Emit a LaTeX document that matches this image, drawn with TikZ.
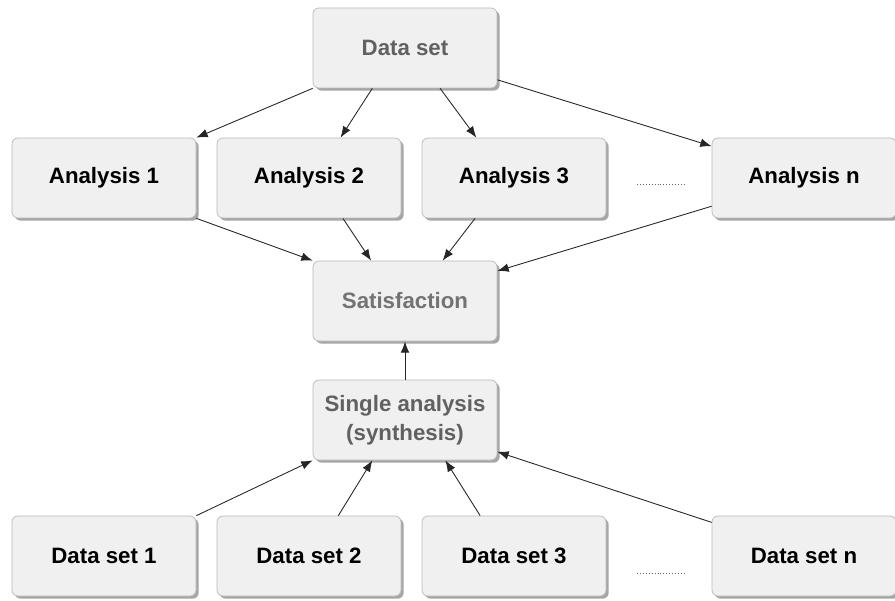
\documentclass[tikz,border=0pt]{standalone}
\usepackage{fontspec}
\setmainfont{Liberation Sans}
\usetikzlibrary{arrows.meta,shadows}

\begin{document}
\begin{tikzpicture}[x=0.03cm, y=-0.03cm]
\tikzstyle{box}=[rectangle, rounded corners=1.8mm, draw=black!27, fill=black!6, line width=0.6pt, minimum width=5.52cm, minimum height=2.4cm, align=center, font=\fontsize{19}{25}\selectfont\bfseries, drop shadow={shadow xshift=0.8mm, shadow yshift=-0.8mm, fill=black!35, opacity=1}]
\tikzstyle{soft}=[text=black!62]
\tikzstyle{connect}=[-{Latex[length=3.4mm, width=2.6mm]}, line width=0.75pt, draw=black!85]
\tikzstyle{dots}=[dotted, line width=0.5pt, black!60]
  \useasboundingbox (0,0) rectangle (895,601);
  % top
  \node[box, soft] (data) at (405,48) {Data set};
  \node[box] (a1) at (104,178) {Analysis 1};
  \node[box] (a2) at (309,178) {Analysis 2};
  \node[box] (a3) at (514,178) {Analysis 3};
  \node[box] (an) at (804,178) {Analysis n};
  \node[box, soft, text=black!55] (sat) at (405,301) {Satisfaction};
  \node[box, soft] (single) at (405,420) {Single analysis\\(synthesis)};
  % bottom
  \node[box] (d1) at (104,556) {Data set 1};
  \node[box] (d2) at (309,556) {Data set 2};
  \node[box] (d3) at (514,556) {Data set 3};
  \node[box] (dn) at (804,556) {Data set n};
  \draw[dots] (637,184) -- (684,184);
  \draw[dots] (637,573) -- (684,573);
  \path (data.south west) edge [connect] (a1.north east);
  \path (data.231) edge [connect] (a2.52);
  \path (data.311) edge [connect] (a3.133);
  \path (data.341) edge [connect] (an.161);
  \path (a1.south east) edge [connect] (sat.north west);
  \path (a2.310) edge [connect] (sat.130);
  \path (a3.226) edge [connect] (sat.47);
  \path (an.197) edge [connect] (sat.18);
  \path (single.north) edge [connect] (sat.south);
  \path (d1.north east) edge [connect] (single.south west);
  \path (d2.54) edge [connect] (single.231);
  \path (d3.130) edge [connect] (single.315);
  \path (dn.160) edge [connect] (single.341);
\end{tikzpicture}
\end{document}
